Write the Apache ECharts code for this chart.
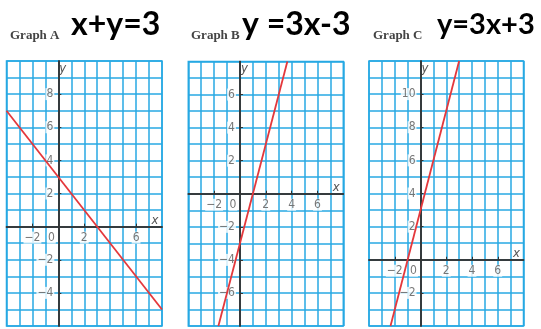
<!DOCTYPE html>
<html>
<head>
<meta charset="utf-8">
<script src="https://cdn.jsdelivr.net/npm/echarts@6/dist/echarts.min.js"></script>
<style>
  html, body { margin: 0; padding: 0; background: #fff; }
  #chart { width: 541px; height: 329px; }
</style>
</head>
<body>
<div id="chart"></div>
<script>
// Panel titles and the handwritten equations above them
const panelTitles = ['Graph A', 'Graph B', 'Graph C'];
const equations = ['x+y=3', 'y =3x-3', 'y=3x+3'];

// Axis ranges of each coordinate plane
const xRanges = [[-4, 8], [-4, 8], [-4, 8]];
const yRanges = [[-6, 10], [-8, 8], [-4, 12]];

// Numbered ticks printed on each plane
const xTickLabels = [
  [-2, 0, 2, 6],
  [-2, 0, 2, 4, 6],
  [-2, 0, 2, 4, 6]
];
const yTickLabels = [
  [-4, -2, 2, 4, 6, 8],
  [-6, -4, -2, 2, 4, 6],
  [-2, 2, 4, 6, 8, 10]
];

// Endpoints of the graphed lines (where they leave each plane)
const lineA = [[-4, 7], [8, -5]];
const lineB = [[-1.67, -8], [3.67, 8]];
const lineC = [[-2.33, -4], [3, 12]];
const lines = [lineA, lineB, lineC];

const gridBlue = '#27a9e3';
const axisInk = '#333';
const labelFont = "'Liberation Sans Narrow', 'DejaVu Sans Condensed', 'Roboto', sans-serif";
const fmt = v => String(v).replace('-', '\u2212');

const panels = [
  { left: 6.5, top: 61, width: 155.5, height: 265 },
  { left: 188.3, top: 61.5, width: 155, height: 264.5 },
  { left: 369, top: 61, width: 154.5, height: 265 }
];
const titleX = [5, 186, 368];
const eqX = [66, 237, 432];
const eqSize = [32, 32, 29];

const grids = [], xAxes = [], yAxes = [], series = [], titles = [];

const tickLabelStyle = {
  show: true, color: '#555', fontFamily: labelFont, fontSize: 12,
  backgroundColor: '#fff', padding: [0, 1, 0, 1]
};

panels.forEach((p, i) => {
  grids.push(Object.assign({
    show: true, borderColor: gridBlue, borderWidth: 1.5, backgroundColor: '#fff',
    containLabel: false, outerBoundsMode: 'none'
  }, p));

  // unit grid and the axis lines through the origin
  xAxes.push({
    type: 'value', gridIndex: i, min: xRanges[i][0], max: xRanges[i][1], interval: 1,
    name: 'x', nameLocation: 'end', nameGap: -7,
    nameTextStyle: { color: '#555', fontStyle: 'italic', fontSize: 13, fontFamily: labelFont, align: 'center', verticalAlign: 'bottom' },
    axisLine: { show: true, onZero: true, lineStyle: { color: axisInk, width: 1.5 } },
    axisTick: { show: false },
    axisLabel: { show: false },
    splitLine: { show: true, lineStyle: { color: gridBlue, width: 1.5 } }
  });
  yAxes.push({
    type: 'value', gridIndex: i, min: yRanges[i][0], max: yRanges[i][1], interval: 1,
    name: 'y', nameLocation: 'end', nameGap: -14,
    nameTextStyle: { color: '#555', fontStyle: 'italic', fontSize: 13, fontFamily: labelFont, padding: [0, 0, 0, 9] },
    axisLine: { show: true, onZero: true, lineStyle: { color: axisInk, width: 1.5 } },
    axisTick: { show: false },
    axisLabel: { show: false },
    splitLine: { show: true, lineStyle: { color: gridBlue, width: 1.5 } }
  });
});

// second axis pair per plane: short tick marks at the numbered values only
panels.forEach((p, i) => {
  xAxes.push({
    type: 'value', gridIndex: i, min: xRanges[i][0], max: xRanges[i][1], interval: 1,
    axisLine: { show: true, onZero: true, onZeroAxisIndex: i, lineStyle: { color: axisInk, width: 1.5 } },
    axisTick: { show: true, customValues: xTickLabels[i], length: 3, lineStyle: { color: axisInk } },
    axisLabel: { show: false },
    splitLine: { show: false }
  });
  yAxes.push({
    type: 'value', gridIndex: i, min: yRanges[i][0], max: yRanges[i][1], interval: 1,
    axisLine: { show: true, onZero: true, onZeroAxisIndex: i, lineStyle: { color: axisInk, width: 1.5 } },
    axisTick: { show: true, customValues: yTickLabels[i], length: 3, lineStyle: { color: axisInk } },
    axisLabel: { show: false },
    splitLine: { show: false }
  });
});

panels.forEach((p, i) => {
  // graphed line
  series.push({
    type: 'line', xAxisIndex: i, yAxisIndex: i, data: lines[i],
    showSymbol: false, symbol: 'none', z: 5,
    lineStyle: { color: '#e4383c', width: 1.8 }, clip: true, silent: true
  });

  // numbers along the x-axis, placed at (value, 0)
  series.push({
    type: 'scatter', xAxisIndex: i, yAxisIndex: i, z: 4, silent: true,
    symbolSize: 0,
    data: xTickLabels[i].map(v => ({
      value: [v, 0],
      label: v === 0 ? { offset: [-7, 0] } : {}
    })),
    label: Object.assign({}, tickLabelStyle, {
      position: 'bottom', distance: 5,
      formatter: d => fmt(d.value[0])
    })
  });

  // numbers along the y-axis, placed at (0, value)
  series.push({
    type: 'scatter', xAxisIndex: i, yAxisIndex: i, z: 4, silent: true,
    symbolSize: 0,
    data: yTickLabels[i].map(v => [0, v]),
    label: Object.assign({}, tickLabelStyle, {
      position: 'left', distance: 4,
      formatter: d => fmt(d.value[1])
    })
  });

  titles.push({
    text: panelTitles[i], left: titleX[i], top: 24,
    textStyle: { fontFamily: "'Liberation Serif', 'DejaVu Serif', serif", fontWeight: 'bold', fontSize: 13, color: '#444' }
  });
  titles.push({
    text: equations[i], left: eqX[i], top: 4 + (32 - eqSize[i]) / 2,
    textStyle: { fontFamily: "Lato, 'Noto Sans', sans-serif", fontWeight: 'bold', fontSize: eqSize[i], color: '#000' }
  });
});

const chart = echarts.init(document.getElementById('chart'), null, { renderer: 'canvas' });
chart.setOption({
  animation: false,
  backgroundColor: '#fff',
  title: titles,
  grid: grids,
  xAxis: xAxes,
  yAxis: yAxes,
  series: series
});
</script>
</body>
</html>
